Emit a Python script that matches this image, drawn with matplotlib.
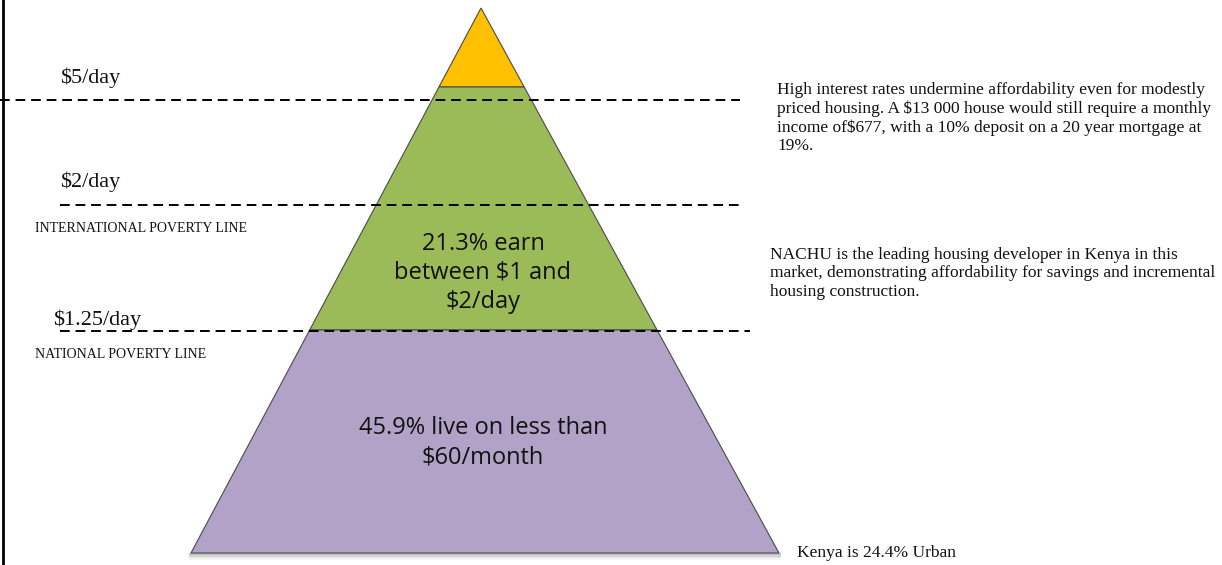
import matplotlib.pyplot as plt
from matplotlib.patches import Polygon

# income tiers of the pyramid, top to bottom
tier_names = ["above $5/day", "$1 - $2/day", "below $1.25/day"]
tier_colors = ["#FFC000", "#9BBB59", "#B3A2C7"]
tier_labels = ["", "21.3% earn\nbetween $1 and\n$2/day", "45.9% live on less than\n$60/month"]

# thresholds drawn as dashed lines
line_labels = ["$5/day", "$2/day", "$1.25/day"]
line_notes = ["", "INTERNATIONAL POVERTY LINE", "NATIONAL POVERTY LINE"]

side_notes = [
    "High interest rates undermine affordability even for modestly\n"
    "priced housing. A $13 000 house would still require a monthly\n"
    "income of$677, with a 10% deposit on a 20 year mortgage at\n"
    "19%.",
    "NACHU is the leading housing developer in Kenya in this\n"
    "market, demonstrating affordability for savings and incremental\n"
    "housing construction.",
]
urban_note = "Kenya is 24.4% Urban"

# layout (pixel-like units, y grows downward)
apex = (481, 8)
base_y, base_l, base_r = 553, 191, 779
bands = [8, 87, 330, 553]
text_y = [None, 273, 443]
line_y = [100, 205, 331]
line_x = [(0, 740), (60, 740), (60, 750)]
label_pos = [(60, 78), (60, 182), (53, 320)]
note_pos = [None, (35, 229), (35, 355)]
side_pos = [(777, 82), (770, 247)]

serif = ["Liberation Serif", "DejaVu Serif"]

fig = plt.figure(figsize=(12.22, 5.65), dpi=100)
ax = fig.add_axes([0, 0, 1, 1])
ax.set_xlim(0, 1222)
ax.set_ylim(565, 0)
ax.axis("off")


def edges(y):
    t = (y - apex[1]) / (base_y - apex[1])
    return apex[0] - t * (apex[0] - base_l), apex[0] + t * (base_r - apex[0])


# soft shadow under the base
for k, a in enumerate([0.10, 0.08, 0.06, 0.04]):
    ax.add_patch(Polygon([(base_l - 2, base_y), (base_r + 2, base_y),
                          (base_r + 2, base_y + 2 + k * 1.5), (base_l - 2, base_y + 2 + k * 1.5)],
                         closed=True, facecolor="black", edgecolor="none", alpha=a, zorder=1))

for i, color in enumerate(tier_colors):
    y0, y1 = bands[i], bands[i + 1]
    l0, r0 = edges(y0)
    l1, r1 = edges(y1)
    ax.add_patch(Polygon([(l0, y0), (r0, y0), (r1, y1), (l1, y1)], closed=True,
                         facecolor=color, edgecolor="#4a4a4a", linewidth=0.8, zorder=2))
    if tier_labels[i]:
        ax.text(apex[0] + 2, text_y[i], tier_labels[i],
                ha="center", va="center", fontsize=17, family="Open Sans",
                linespacing=1.3, color="#111111", zorder=4)

for i, name in enumerate(line_labels):
    ax.plot(line_x[i], [line_y[i], line_y[i]], color="black", lw=1.4,
            dashes=(5, 3), zorder=3)
    ax.text(*label_pos[i], name, ha="left", va="center", fontsize=16,
            family=serif, color="#111111")
    if note_pos[i]:
        ax.text(*note_pos[i], line_notes[i], ha="left", va="center", fontsize=10,
                family=serif, color="#111111")

for (x, y), note in zip(side_pos, side_notes):
    ax.text(x, y, note, ha="left", va="top", fontsize=12.5,
            family=serif, linespacing=1.2, color="#111111")
ax.text(797, 553, urban_note, ha="left", va="center", fontsize=12.5,
        family=serif, color="#111111")

# frame edge on the left
ax.plot([3, 3], [0, 565], color="black", lw=2, zorder=3)

fig.savefig("out.png", dpi=100)
